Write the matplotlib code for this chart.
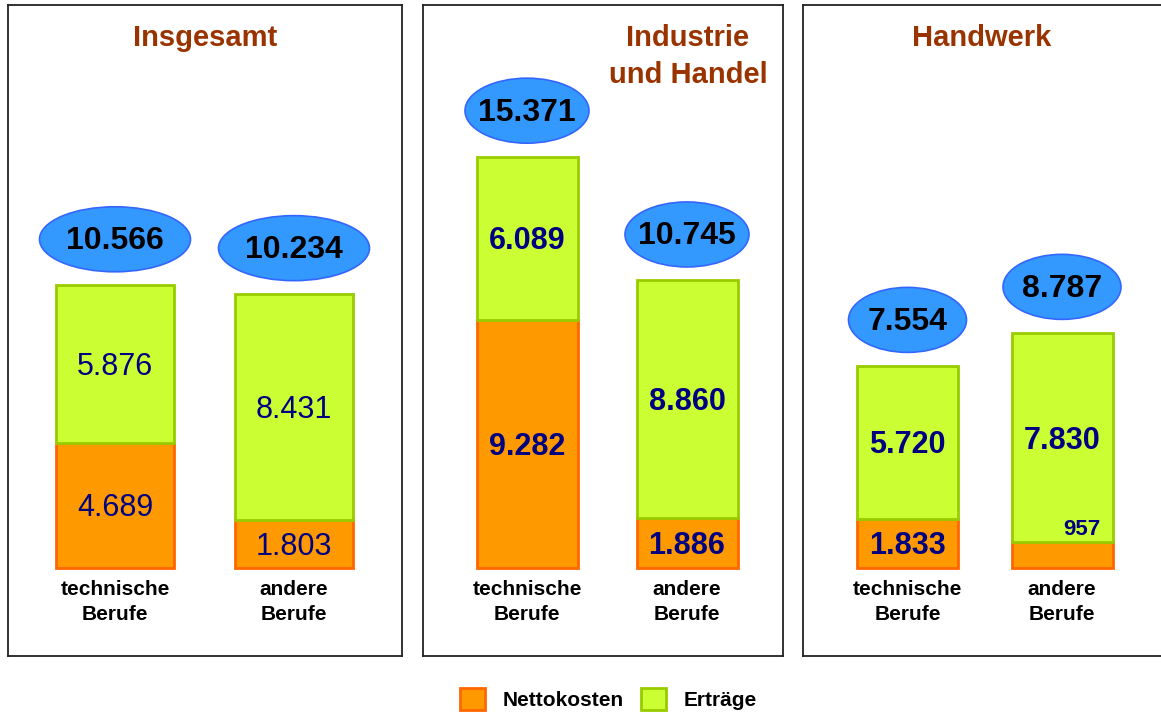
import matplotlib.pyplot as plt
from matplotlib.patches import Ellipse, Patch

plt.rcParams['font.family'] = ['Liberation Sans', 'DejaVu Sans']

# data
panels = ['Insgesamt', 'Industrie\nund Handel', 'Handwerk']
categories = ['technische\nBerufe', 'andere\nBerufe']
nettokosten = [[4689, 1803], [9282, 1886], [1833, 957]]
ertraege = [[5876, 8431], [6089, 8860], [5720, 7830]]
totals = [['10.566', '10.234'], ['15.371', '10.745'], ['7.554', '8.787']]
net_labels = [['4.689', '1.803'], ['9.282', '1.886'], ['1.833', '957']]
ert_labels = [['5.876', '8.431'], ['6.089', '8.860'], ['5.720', '7.830']]

# layout (pixels of the 1161x712 picture)
W, H = 1161, 712
boxes = [(8, 402), (423, 783), (803, 1165)]
box_top, box_bottom, base_y = 5, 656, 568
k = 37.37  # value units per pixel
dy = 3 * k  # nudge text down a bit
bar_x = [[107, 286], [104, 264], [104.5, 259]]
bar_w = [118, 101, 101]
ell_w = [151, 124, 118]
title_x = [197, 265, 179]
bold_vals = [False, True, True]

orange, orange_e = '#FF9900', '#FF6600'
green, green_e = '#CCFF33', '#99CC00'
blue, blue_e = '#3399FF', '#3366FF'
navy = '#000080'

fig = plt.figure(figsize=(W / 100, H / 100), dpi=100)

for p in range(3):
    x0, x1 = boxes[p]
    ax = fig.add_axes([x0 / W, 1 - box_bottom / H, (x1 - x0) / W, (box_bottom - box_top) / H])
    ax.set_xlim(0, x1 - x0)
    ax.set_ylim(-(box_bottom - base_y) * k, (base_y - box_top) * k)
    ax.set_xticks([])
    ax.set_yticks([])
    for s in ax.spines.values():
        s.set_linewidth(1.3)
        s.set_color('#222222')

    xs = bar_x[p]
    net = nettokosten[p]
    ert = ertraege[p]
    ax.bar(xs, net, width=bar_w[p], color=orange, edgecolor=orange_e, linewidth=2)
    ax.bar(xs, ert, bottom=net, width=bar_w[p], color=green, edgecolor=green_e, linewidth=2)

    fw = 'bold' if bold_vals[p] else 'normal'
    for i in range(2):
        top = net[i] + ert[i]
        # ertraege label
        ax.text(xs[i], net[i] + ert[i] / 2 - dy, ert_labels[p][i], ha='center', va='center',
                fontsize=22, color=navy, fontweight=fw)
        # nettokosten label
        if net[i] > 1500:
            ax.text(xs[i], net[i] / 2 - dy, net_labels[p][i], ha='center', va='center',
                    fontsize=22, color=navy, fontweight=fw)
        else:
            ax.text(xs[i] + bar_w[p] / 2 - 12, net[i] + 13 * k, net_labels[p][i],
                    ha='right', va='center', fontsize=16, color=navy, fontweight='bold')
        # total in ellipse
        cy = top + 46 * k
        ax.add_patch(Ellipse((xs[i], cy), ell_w[p], 65 * k, facecolor=blue,
                             edgecolor=blue_e, linewidth=1.2, clip_on=False))
        ax.text(xs[i], cy - 2 * k, totals[p][i], ha='center', va='center', fontsize=23,
                fontweight='bold', color='black')
        # category
        ax.text(xs[i], -12 * k, categories[i], ha='center', va='top', fontsize=15,
                fontweight='bold', color='black', linespacing=1.4)

    ax.text(title_x[p], (base_y - 24) * k, panels[p], ha='center', va='top', fontsize=21,
            fontweight='bold', color='#993300', linespacing=1.4)

handles = [Patch(facecolor=orange, edgecolor=orange_e, linewidth=2, label='Nettokosten'),
           Patch(facecolor=green, edgecolor=green_e, linewidth=2, label='Erträge')]
fig.legend(handles=handles, loc='center', bbox_to_anchor=(0.524, 0.018), ncol=2,
           frameon=False, prop={'size': 15, 'weight': 'bold'}, handlelength=1.2,
           handleheight=1.2, handletextpad=0.85, columnspacing=0.8)

fig.savefig('out.png', dpi=100)
